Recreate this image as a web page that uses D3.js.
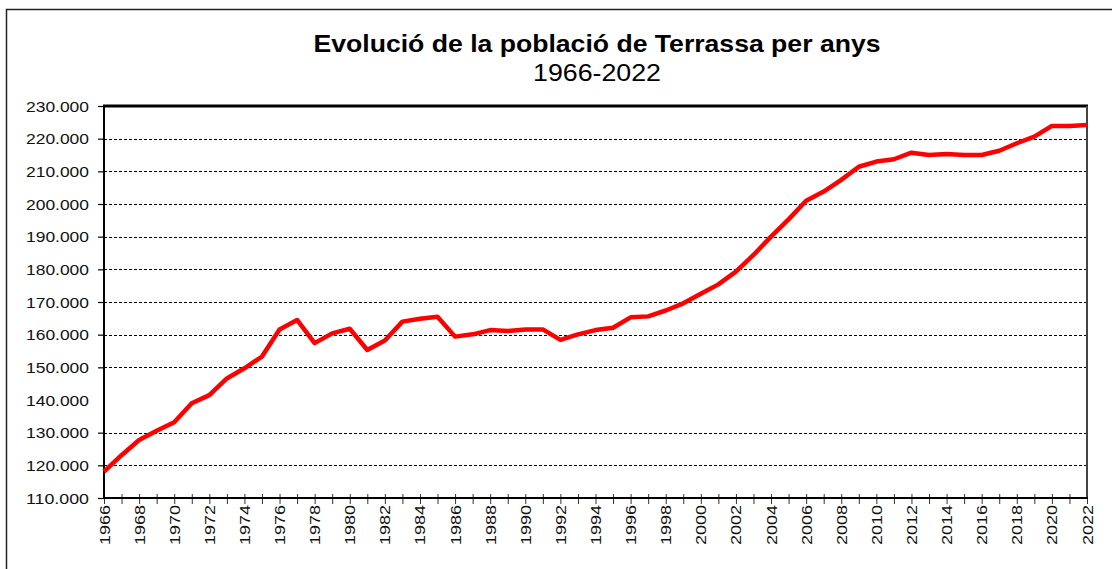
<!DOCTYPE html>
<html>
<head>
<meta charset="utf-8">
<script src="https://cdn.jsdelivr.net/npm/d3@7"></script>
<style>
  html, body { margin: 0; padding: 0; background: #fff; }
  svg { display: block; font-family: "Liberation Sans", Arial, sans-serif; }
</style>
</head>
<body>
<svg id="chart" width="1112" height="569"></svg>
<script>
const titleText = "Evolució de la població de Terrassa per anys";
const subtitleText = "1966-2022";
const years = d3.range(1966, 2023);
const population = [
  118050, 123100, 127750, 130600, 133200, 139000, 141500, 146600, 149700, 153300,
  161600, 164500, 157400, 160400, 161800, 155300, 158200, 164000, 164900, 165500,
  159400, 160100, 161400, 161100, 161600, 161600, 158400, 160100, 161400, 162100,
  165300, 165600, 167400, 169600, 172500, 175400, 179300, 184400, 190000, 195300,
  201000, 203800, 207400, 211400, 213000, 213700, 215700, 215000, 215300, 215000,
  215000, 216300, 218600, 220600, 223900, 223900, 224200
];
const yTicks = d3.range(110000, 230001, 10000);
const xTickLabels = d3.range(1966, 2023, 2);

const svg = d3.select("#chart");
const m = { left: 104, right: 1087, top: 106, bottom: 498 };

// outer frame
svg.append("rect").attr("x", 6.5).attr("y", 9.5).attr("width", 1200).attr("height", 700)
  .attr("fill", "none").attr("stroke", "#222").attr("stroke-width", 1.5);

const x = d3.scaleLinear().domain([1966, 2022]).range([m.left, m.right]);
const y = d3.scaleLinear().domain([110000, 230000]).range([m.bottom, m.top]);

// title
svg.append("text").attr("x", 597).attr("y", 52).attr("text-anchor", "middle")
  .attr("font-size", 24).attr("font-weight", "bold").attr("fill", "#000")
  .attr("textLength", 567).attr("lengthAdjust", "spacingAndGlyphs").text(titleText);
svg.append("text").attr("x", 597).attr("y", 81).attr("text-anchor", "middle")
  .attr("font-size", 24).attr("fill", "#000")
  .attr("textLength", 128).attr("lengthAdjust", "spacingAndGlyphs").text(subtitleText);

// gridlines (140.000 line absent in the reference)
const gridVals = yTicks.filter(v => v !== 110000 && v !== 230000 && v !== 140000);
svg.append("g").selectAll("line").data(gridVals).join("line")
  .attr("x1", m.left).attr("x2", m.right)
  .attr("y1", d => Math.round(y(d)) + 0.5).attr("y2", d => Math.round(y(d)) + 0.5)
  .attr("stroke", "#000").attr("stroke-width", 1).attr("stroke-dasharray", "3,2");

// y axis
const yAxis = d3.axisLeft(y).tickValues(yTicks.filter(v => v !== 140000))
  .tickSize(6).tickFormat("");
const gy = svg.append("g").attr("transform", `translate(${m.left},0)`).call(yAxis);
gy.select(".domain").remove();
gy.selectAll(".tick line").attr("stroke", "#000").attr("stroke-width", 1.2);
svg.append("g").selectAll("text").data(yTicks).join("text")
  .attr("x", 89).attr("y", d => y(d) + 5.5).attr("text-anchor", "end")
  .attr("font-size", 15.5).attr("fill", "#111")
  .attr("textLength", 63).attr("lengthAdjust", "spacingAndGlyphs")
  .text(d => d3.format(",")(d).replace(/,/g, "."));

// x axis ticks
const gx = svg.append("g").attr("transform", `translate(0,${m.bottom})`)
  .call(d3.axisBottom(x).tickValues(years).tickSize(6).tickFormat(""));
gx.select(".domain").remove();
gx.selectAll(".tick line").attr("y1", -4).attr("y2", 6).attr("stroke", "#333").attr("stroke-width", 1);
svg.append("g").selectAll("text").data(xTickLabels).join("text")
  .attr("transform", d => `translate(${x(d) + 5.5},545) rotate(-90)`)
  .attr("font-size", 15).attr("fill", "#111")
  .attr("textLength", 40).attr("lengthAdjust", "spacingAndGlyphs")
  .text(d => d);

// plot borders
svg.append("line").attr("x1", m.left - 1).attr("x2", m.right + 1).attr("y1", m.top).attr("y2", m.top)
  .attr("stroke", "#000").attr("stroke-width", 3);
svg.append("line").attr("x1", m.right).attr("x2", m.right).attr("y1", m.top).attr("y2", m.bottom)
  .attr("stroke", "#444").attr("stroke-width", 2);
svg.append("line").attr("x1", m.left).attr("x2", m.left).attr("y1", m.top).attr("y2", m.bottom + 1)
  .attr("stroke", "#000").attr("stroke-width", 2);
svg.append("line").attr("x1", m.left).attr("x2", m.right + 1).attr("y1", m.bottom).attr("y2", m.bottom)
  .attr("stroke", "#000").attr("stroke-width", 2);

// data line
const line = d3.line().x((d, i) => x(years[i])).y(d => y(d));
svg.append("path").datum(population).attr("d", line)
  .attr("fill", "none").attr("stroke", "#ff0000").attr("stroke-width", 4.5)
  .attr("stroke-linejoin", "round").attr("stroke-linecap", "butt");
</script>
</body>
</html>
